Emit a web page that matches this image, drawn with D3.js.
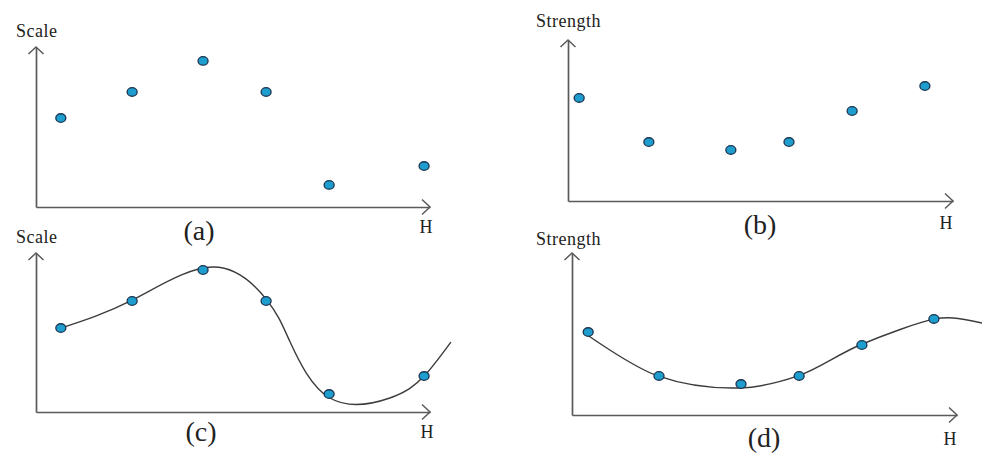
<!DOCTYPE html>
<html>
<head>
<meta charset="utf-8">
<script src="https://cdn.jsdelivr.net/npm/d3@7"></script>
<style>
  body { margin: 0; background: #fff; }
  text { font-family: "Liberation Serif", "DejaVu Serif", serif; fill: #222; }
</style>
</head>
<body>
<svg id="chart"></svg>
<script>
// values, H and y both on a 0..10 scale along each axis
var hA = [0.63, 2.44, 4.24, 5.84, 7.44, 9.85];
var scaleA = [5.56, 7.19, 9.13, 7.19, 1.38, 2.56];

var hB = [0.29, 2.10, 4.23, 5.74, 7.38, 9.27];
var strengthB = [6.40, 3.66, 3.17, 3.66, 5.59, 7.14];

var hC = [0.63, 2.44, 4.24, 5.84, 7.44, 9.85];
var scaleC = [5.28, 6.98, 8.93, 6.98, 1.13, 2.26];

var hD = [0.42, 2.26, 4.39, 5.90, 7.53, 9.40];
var strengthD = [5.12, 2.41, 1.91, 2.41, 4.32, 5.93];

// fitted curves (c) and (d), knots
var curveCH = [0.63, 2.44, 4.49, 5.86, 6.45, 7.46, 8.98, 9.85, 10.53];
var curveCV = [5.28, 7.04, 9.12, 7.04, 4.40, 0.88, 0.88, 2.26, 4.40];

var curveDH = [0.29, 2.23, 4.36, 5.87, 7.48, 9.43, 9.90, 10.65];
var curveDV = [5.12, 2.41, 1.67, 2.41, 4.32, 5.93, 5.99, 5.68];

var panelNames = ['(a)', '(b)', '(c)', '(d)'];
var yTitles = ['Scale', 'Strength', 'Scale', 'Strength'];
var xTitle = 'H';

var width = 982;
var height = 456;

var svg = d3.select('#chart')
  .attr('width', width)
  .attr('height', height);

function zip(xs, ys) {
  return xs.map(function(x, i) { return { h: x, v: ys[i] }; });
}

// one panel: box is the axis frame in pixels, lab holds label spots
function drawPanel(box, points, curve, curveType, i, lab) {
  var x = d3.scaleLinear().domain([0, 10]).range([box.x0, box.x1]);
  var y = d3.scaleLinear().domain([0, 10]).range([box.y0, box.y1]);

  var g = svg.append('g');

  // axes, no ticks
  g.append('g')
    .attr('transform', 'translate(0,' + box.y0 + ')')
    .call(d3.axisBottom(x).ticks(0).tickSizeOuter(0));
  g.append('g')
    .attr('transform', 'translate(' + box.x0 + ',0)')
    .call(d3.axisLeft(y).ticks(0).tickSizeOuter(0));
  g.selectAll('.domain')
    .attr('stroke', '#5a5a5a')
    .attr('stroke-width', 1.7);

  // open arrow heads
  var ax = x(10), ay = y(10);
  g.append('path')
    .attr('d', 'M' + (ax - 8) + ',' + (box.y0 - 7.5) + 'L' + ax + ',' + box.y0 + 'L' + (ax - 8) + ',' + (box.y0 + 7.5))
    .attr('fill', 'none').attr('stroke', '#5a5a5a').attr('stroke-width', 1.5);
  g.append('path')
    .attr('d', 'M' + (box.x0 - 7.5) + ',' + (ay + 7) + 'L' + box.x0 + ',' + ay + 'L' + (box.x0 + 7.5) + ',' + (ay + 7))
    .attr('fill', 'none').attr('stroke', '#5a5a5a').attr('stroke-width', 1.5);

  if (curve) {
    var line = d3.line()
      .x(function(d) { return x(d.h); })
      .y(function(d) { return y(d.v); })
      .curve(curveType);
    g.append('path')
      .datum(curve)
      .attr('d', line)
      .attr('fill', 'none')
      .attr('stroke', '#3c3c3c')
      .attr('stroke-width', 1.4);
  }

  g.selectAll('ellipse')
    .data(points)
    .enter().append('ellipse')
      .attr('cx', function(d) { return x(d.h); })
      .attr('cy', function(d) { return y(d.v); })
      .attr('rx', 5)
      .attr('ry', 4.3)
      .attr('fill', '#1e9dcf')
      .attr('stroke', '#1b3550')
      .attr('stroke-width', 1.3);

  g.append('text')
    .attr('x', lab.tx).attr('y', lab.ty)
    .attr('font-size', 18)
    .attr('letter-spacing', 0.5)
    .text(yTitles[i]);

  g.append('text')
    .attr('x', lab.hx).attr('y', lab.hy)
    .attr('text-anchor', 'middle')
    .attr('font-size', 18)
    .text(xTitle);

  g.append('text')
    .attr('x', lab.px).attr('y', lab.py)
    .attr('text-anchor', 'middle')
    .attr('font-size', 28)
    .text(panelNames[i]);
}

drawPanel({ x0: 36, x1: 430, y0: 207, y1: 47 }, zip(hA, scaleA), null, null, 0,
  { tx: 16, ty: 37, hx: 426, hy: 233, px: 199, py: 240 });
drawPanel({ x0: 568, x1: 953, y0: 201, y1: 40 }, zip(hB, strengthB), null, null, 1,
  { tx: 536, ty: 27, hx: 946, hy: 229, px: 760, py: 234 });
drawPanel({ x0: 36, x1: 430, y0: 412, y1: 253 }, zip(hC, scaleC), zip(curveCH, curveCV), d3.curveNatural, 2,
  { tx: 16, ty: 243, hx: 427, hy: 438, px: 201, py: 441 });
drawPanel({ x0: 572, x1: 957, y0: 415, y1: 253 }, zip(hD, strengthD), zip(curveDH, curveDV), d3.curveCatmullRom.alpha(0.5), 3,
  { tx: 536, ty: 245, hx: 950, hy: 445, px: 764, py: 447 });
</script>
</body>
</html>
